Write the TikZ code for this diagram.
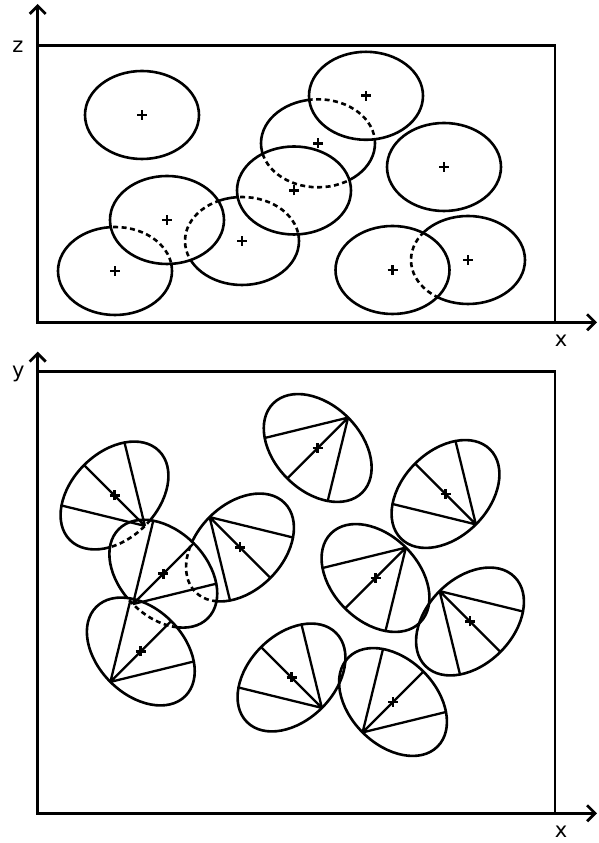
\documentclass[tikz,border=0pt]{standalone}
\usepackage{fontspec}
\setmainfont{DejaVu Sans}
\usetikzlibrary{arrows.meta}
\newcommand\eggfan[6]{%
  \begin{scope}[shift={(#1)}, rotate=#2]
    \draw[chord] (#3:63pt and 43pt) -- (#4:63pt and 43pt)
                 (#3:63pt and 43pt) -- (#5:63pt and 43pt)
                 (#3:63pt and 43pt) -- (#6:63pt and 43pt);
  \end{scope}}
\begin{document}
\begin{tikzpicture}[x=1pt,y=1pt,
  vis/.style={line width=2.6pt},
  hid/.style={line width=2.6pt, dash pattern=on 5pt off 3.5pt},
  chord/.style={line width=2.3pt},
  axis/.style={line width=2.7pt},
  lbl/.style={font=\fontsize{21}{21}\selectfont, inner sep=0pt},
  plus/.pic={\draw[line width=2.9pt] (-5,0)--(5,0) (0,-5)--(0,5);}]
\useasboundingbox (0,0) rectangle (599,843);

% ================= top panel (x-z) =================
\coordinate (O1) at (37.7,520.7);
\coordinate (Y1) at (37.7,839);
\coordinate (X1) at (597,520.7);
\coordinate (TL1) at (37.7,797.3);
\coordinate (TR1) at (555,797.3);
\coordinate (BR1) at (555,520.7);
\draw[axis] (TL1) -- (TR1) -- (BR1);
\draw[axis, {Straight Barb[length=8pt,width=16pt]}-{Straight Barb[length=8pt,width=16pt]}] (Y1) -- (O1) -- (X1);
\node[lbl] (zl) at (18,796.5) {z};
\node[lbl] (xl1) at (561,502) {x};

\coordinate (t1) at (142,728);
\coordinate (t2) at (115,572);
\coordinate (t3) at (167,623);
\coordinate (t4) at (242,602);
\coordinate (t5) at (294,652.5);
\coordinate (t6) at (318,699.7);
\coordinate (t7) at (366,747.2);
\coordinate (t8) at (444,676);
\coordinate (t9) at (392.5,573);
\coordinate (t10) at (468,583);

% front ellipses
\foreach \c in {t1,t3,t5,t7,t8,t9}
  \draw[vis] (\c) ellipse [x radius=57, y radius=44];

% ellipse 2 behind 3
\begin{scope}
  \clip (t3) ellipse [x radius=57, y radius=44];
  \draw[hid] (t2) ellipse [x radius=57, y radius=44];
\end{scope}
\begin{scope}[even odd rule]
  \clip (-1000,-1000) rectangle (2000,2000) (t3) ellipse [x radius=57, y radius=44];
  \draw[vis] (t2) ellipse [x radius=57, y radius=44];
\end{scope}

% ellipse 4 behind 3 and 5
\begin{scope}
  \clip (t3) ellipse [x radius=57, y radius=44];
  \draw[hid] (t4) ellipse [x radius=57, y radius=44];
\end{scope}
\begin{scope}
  \clip (t5) ellipse [x radius=57, y radius=44];
  \draw[hid] (t4) ellipse [x radius=57, y radius=44];
\end{scope}
\begin{scope}[even odd rule]
  \clip (-1000,-1000) rectangle (2000,2000) (t3) ellipse [x radius=57, y radius=44];
  \clip (-1000,-1000) rectangle (2000,2000) (t5) ellipse [x radius=57, y radius=44];
  \draw[vis] (t4) ellipse [x radius=57, y radius=44];
\end{scope}

% ellipse 6 behind 5 and 7
\begin{scope}
  \clip (t5) ellipse [x radius=57, y radius=44];
  \draw[hid] (t6) ellipse [x radius=57, y radius=44];
\end{scope}
\begin{scope}
  \clip (t7) ellipse [x radius=57, y radius=44];
  \draw[hid] (t6) ellipse [x radius=57, y radius=44];
\end{scope}
\begin{scope}[even odd rule]
  \clip (-1000,-1000) rectangle (2000,2000) (t5) ellipse [x radius=57, y radius=44];
  \clip (-1000,-1000) rectangle (2000,2000) (t7) ellipse [x radius=57, y radius=44];
  \draw[vis] (t6) ellipse [x radius=57, y radius=44];
\end{scope}

% ellipse 10 behind 9
\begin{scope}
  \clip (t9) ellipse [x radius=57, y radius=44];
  \draw[hid] (t10) ellipse [x radius=57, y radius=44];
\end{scope}
\begin{scope}[even odd rule]
  \clip (-1000,-1000) rectangle (2000,2000) (t9) ellipse [x radius=57, y radius=44];
  \draw[vis] (t10) ellipse [x radius=57, y radius=44];
\end{scope}

\foreach \c in {t1,t2,t3,t4,t5,t6,t7,t8,t9,t10}
  \pic at (\c) {plus};

% ================= bottom panel (x-y) =================
\coordinate (O2) at (37.7,29.7);
\coordinate (Y2) at (37.7,491.3);
\coordinate (X2) at (597,29.7);
\coordinate (TL2) at (37.7,471.3);
\coordinate (TR2) at (555,471.3);
\coordinate (BR2) at (555,29.7);
\draw[axis] (TL2) -- (TR2) -- (BR2);
\draw[axis, {Straight Barb[length=8pt,width=16pt]}-{Straight Barb[length=8pt,width=16pt]}] (Y2) -- (O2) -- (X2);
\node[lbl] (yl) at (18.3,469.3) {y};
\node[lbl] (xl2) at (561.2,11.2) {x};

\coordinate (A) at (114.5,347.5);
\coordinate (B) at (163.3,269.3);
\coordinate (C) at (240,295.5);
\coordinate (D) at (140.8,191.5);
\coordinate (E) at (317.7,395);
\coordinate (F) at (445.5,349);
\coordinate (G) at (375.5,265);
\coordinate (H) at (470,221.5);
\coordinate (I) at (291.5,165.5);
\coordinate (J) at (393,141);

% outlines fully visible
\draw[vis] (D) circle [x radius=63, y radius=43, rotate=-45];
\draw[vis] (E) circle [x radius=63, y radius=43, rotate=-45];
\draw[vis] (F) circle [x radius=63, y radius=43, rotate=45];
\draw[vis] (G) circle [x radius=63, y radius=43, rotate=-45];
\draw[vis] (H) circle [x radius=63, y radius=43, rotate=45];
\draw[vis] (I) circle [x radius=63, y radius=43, rotate=45];
\draw[vis] (J) circle [x radius=63, y radius=43, rotate=-45];

% A and C behind B
\begin{scope}
  \clip (B) circle [x radius=63, y radius=43, rotate=-45];
  \draw[hid] (A) circle [x radius=63, y radius=43, rotate=45];
  \draw[hid] (C) circle [x radius=63, y radius=43, rotate=45];
\end{scope}
\begin{scope}[even odd rule]
  \clip (-1000,-1000) rectangle (2000,2000) (B) circle [x radius=63, y radius=43, rotate=-45];
  \draw[vis] (A) circle [x radius=63, y radius=43, rotate=45];
  \draw[vis] (C) circle [x radius=63, y radius=43, rotate=45];
\end{scope}

% B behind D
\begin{scope}
  \clip (D) circle [x radius=63, y radius=43, rotate=-45];
  \draw[hid] (B) circle [x radius=63, y radius=43, rotate=-45];
\end{scope}
\begin{scope}[even odd rule]
  \clip (-1000,-1000) rectangle (2000,2000) (D) circle [x radius=63, y radius=43, rotate=-45];
  \draw[vis] (B) circle [x radius=63, y radius=43, rotate=-45];
\end{scope}

% fans of chords
\eggfan{A}{45}{270}{45}{90}{135}
\eggfan{B}{-45}{270}{45}{90}{135}
\eggfan{C}{45}{90}{225}{270}{315}
\eggfan{D}{-45}{270}{45}{90}{135}
\eggfan{E}{-45}{90}{225}{270}{315}
\eggfan{F}{45}{270}{45}{90}{135}
\eggfan{G}{-45}{90}{225}{270}{315}
\eggfan{H}{45}{90}{225}{270}{315}
\eggfan{I}{45}{270}{45}{90}{135}
\eggfan{J}{-45}{270}{45}{90}{135}

\foreach \c in {A,B,C,D,E,F,G,H,I,J}
  \pic at (\c) {plus};
\end{tikzpicture}
\end{document}
